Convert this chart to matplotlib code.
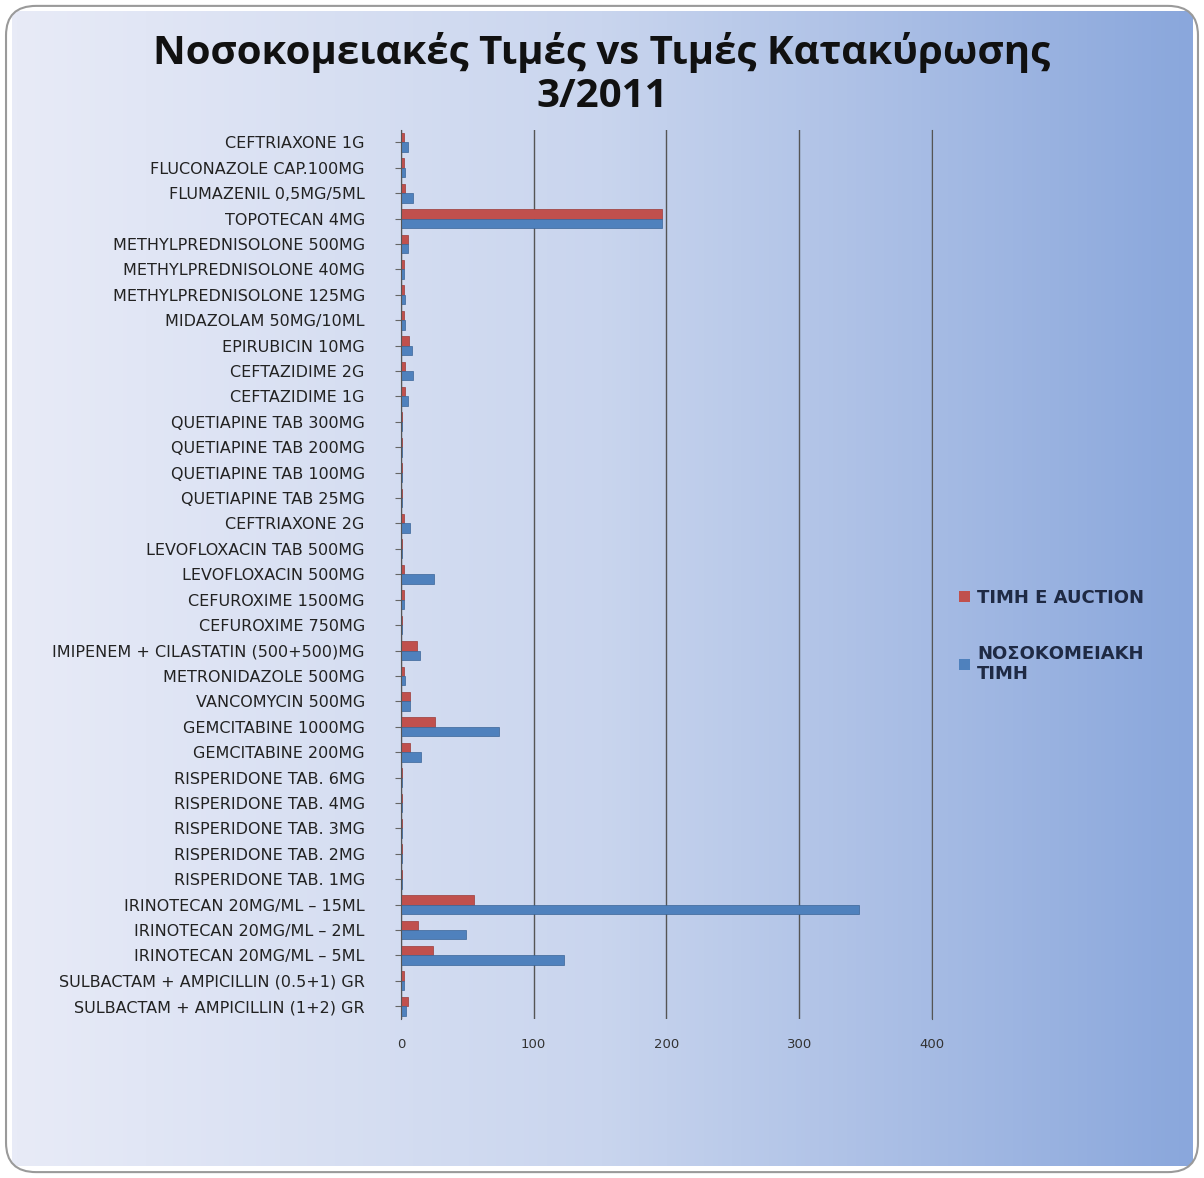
import numpy as np
import matplotlib
matplotlib.use("Agg")
import matplotlib.pyplot as plt
from matplotlib.patches import FancyBboxPatch, Patch
from matplotlib.colors import LinearSegmentedColormap

# Categories listed top to bottom as in the reference
categories = [
    "CEFTRIAXONE 1G", "FLUCONAZOLE CAP.100MG", "FLUMAZENIL 0,5MG/5ML", "TOPOTECAN 4MG",
    "METHYLPREDNISOLONE 500MG", "METHYLPREDNISOLONE 40MG", "METHYLPREDNISOLONE 125MG",
    "MIDAZOLAM 50MG/10ML", "EPIRUBICIN 10MG", "CEFTAZIDIME 2G", "CEFTAZIDIME 1G",
    "QUETIAPINE TAB 300MG", "QUETIAPINE TAB 200MG", "QUETIAPINE TAB 100MG", "QUETIAPINE TAB 25MG",
    "CEFTRIAXONE 2G", "LEVOFLOXACIN TAB 500MG", "LEVOFLOXACIN 500MG", "CEFUROXIME 1500MG",
    "CEFUROXIME 750MG", "IMIPENEM + CILASTATIN (500+500)MG", "METRONIDAZOLE 500MG",
    "VANCOMYCIN 500MG", "GEMCITABINE 1000MG", "GEMCITABINE 200MG", "RISPERIDONE TAB. 6MG",
    "RISPERIDONE TAB. 4MG", "RISPERIDONE TAB. 3MG", "RISPERIDONE TAB. 2MG", "RISPERIDONE TAB. 1MG",
    "IRINOTECAN 20MG/ML \u2013 15ML", "IRINOTECAN 20MG/ML \u2013 2ML", "IRINOTECAN 20MG/ML \u2013 5ML",
    "SULBACTAM + AMPICILLIN (0.5+1) GR", "SULBACTAM + AMPICILLIN (1+2) GR",
]
auction = [2, 2, 3, 197, 5, 2, 2, 2, 6, 3, 3, 1, 1, 1, 0.5, 2, 1, 2, 2, 1,
           12, 2, 7, 26, 7, 1, 1, 1, 1, 1, 55, 13, 24, 2, 5]
hospital = [5, 3, 9, 197, 5, 2, 3, 3, 8, 9, 5, 1, 1, 1, 0.5, 7, 1, 25, 2, 1,
            14, 3, 7, 74, 15, 1, 1, 1, 1, 1, 345, 49, 123, 2, 4]
series_names = ["\u03a4\u0399\u039c\u0397 E AUCTION",
                "\u039d\u039f\u03a3\u039f\u039a\u039f\u039c\u0395\u0399\u0391\u039a\u0397\n\u03a4\u0399\u039c\u0397"]
xticks = [0, 100, 200, 300, 400]
title = ("\u039d\u03bf\u03c3\u03bf\u03ba\u03bf\u03bc\u03b5\u03b9\u03b1\u03ba\u03ad\u03c2 "
         "\u03a4\u03b9\u03bc\u03ad\u03c2 vs \u03a4\u03b9\u03bc\u03ad\u03c2 "
         "\u039a\u03b1\u03c4\u03b1\u03ba\u03cd\u03c1\u03c9\u03c3\u03b7\u03c2\n3/2011")

RED = "#C0504D"
BLUE = "#4F81BD"

fig = plt.figure(figsize=(12.04, 11.78), dpi=100)
fig.patch.set_facecolor("white")

# gradient background with rounded frame
bg = fig.add_axes([0, 0, 1, 1], zorder=-10)
bg.set_axis_off()
grad = np.linspace(0, 1, 256)[None, :]
cmap = LinearSegmentedColormap.from_list("g", ["#e8ebf7", "#c9d5ee", "#8aa7dc"])
bg.imshow(grad, aspect="auto", cmap=cmap, extent=[0, 1, 0, 1])
bg.set_xlim(-0.01, 1.01)
bg.set_ylim(-0.01, 1.01)
clip = FancyBboxPatch((0.005, 0.005), 0.99, 0.99, boxstyle="round,pad=0,rounding_size=0.025",
                      transform=bg.transAxes, facecolor="none", edgecolor="#9a9a9a", lw=1.5)
bg.add_patch(clip)
bg.images[0].set_clip_path(clip)

ax = fig.add_axes([0.333, 0.135, 0.441, 0.755])
ax.set_facecolor("none")
n = len(categories)
y = np.arange(n)[::-1]
h = 0.37
ax.barh(y + h / 2, auction, height=h, color=RED, edgecolor="#9b3a38", lw=0.5, label=series_names[0])
ax.barh(y - h / 2, hospital, height=h, color=BLUE, edgecolor="#3a6497", lw=0.5, label=series_names[1])
ax.set_ylim(-0.5, n - 0.5)
ax.set_xlim(0, 400)
ax.set_xticks(xticks)
ax.set_xticklabels([str(t) for t in xticks], fontsize=9.5, color="#333333")
ax.set_yticks(y)
ax.set_yticklabels(categories, fontsize=11.5, color="#222222")
ax.tick_params(axis="x", length=0, pad=14)
ax.tick_params(axis="y", length=4, color="#666666", pad=22)
ax.xaxis.grid(True, color="#555555", lw=1.0)
ax.set_axisbelow(True)
for s in ["top", "bottom"]:
    ax.spines[s].set_visible(False)
ax.spines["left"].set_color("#555555")
ax.spines["right"].set_color("#555555")

fig.text(0.5, 0.937, title, ha="center", va="center", fontsize=29, fontweight="bold",
         family="Open Sans", color="#111111", linespacing=1.15)

handles = [Patch(facecolor=RED), Patch(facecolor=BLUE)]
leg = fig.legend(handles, series_names, loc="center left", bbox_to_anchor=(0.783, 0.46),
                 frameon=False, fontsize=13, handlelength=0.6, handleheight=0.6,
                 labelspacing=2.1, handletextpad=0.4)
for t in leg.get_texts():
    t.set_fontweight("bold")
    t.set_color("#1f2a44")

fig.savefig("out.png", dpi=100)
